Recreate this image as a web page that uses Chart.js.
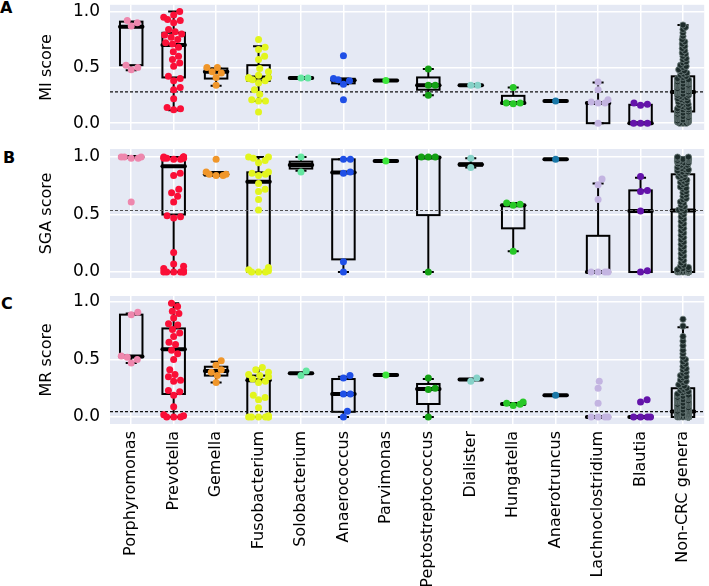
<!DOCTYPE html>
<html>
<head>
<meta charset="utf-8">
<script src="https://cdn.jsdelivr.net/npm/chart.js@4.4.1/dist/chart.umd.min.js"></script>
<style>
  body { margin: 0; background: #fff; width: 709px; height: 586px; overflow: hidden; position: relative; }
  canvas { position: absolute; left: 0; }
  .tag { position: absolute; font: bold 16px "DejaVu Sans", sans-serif; color: #000; line-height: 16px; }
</style>
</head>
<body>
<div class="tag" style="left:0px;top:0px">A</div>
<div class="tag" style="left:3px;top:150px">B</div>
<div class="tag" style="left:1px;top:296px">C</div>
<canvas id="panelA" width="709" height="135" style="top:0px"></canvas>
<canvas id="panelB" width="709" height="145" style="top:140px"></canvas>
<canvas id="panelC" width="709" height="301" style="top:285px"></canvas>
<script>
// categories
const genera = ["Porphyromonas", "Prevotella", "Gemella", "Fusobacterium", "Solobacterium",
  "Anaerococcus", "Parvimonas", "Peptostreptococcus", "Dialister", "Hungatella",
  "Anaerotruncus", "Lachnoclostridium", "Blautia", "Non-CRC genera"];
const colors = ["#ee87ad", "#fa0f37", "#f0962a", "#e2f51e", "#64e6a0", "#1f4fe6", "#3ce63c",
  "#14a014", "#86d2c8", "#28c828", "#1a78a8", "#c3b4e1", "#6414aa", "#1d2b2a"];
const yTicks = [0, 0.5, 1.0];

// non-CRC genera (dense column)
const miNonCrc = [0.00,0.00,0.00,0.01,0.01,0.02,0.02,0.03,0.03,0.04,0.04,0.05,0.05,0.06,0.06,0.07,0.07,0.08,0.08,0.09,0.09,0.10,0.10,0.10,0.11,
  0.12,0.12,0.13,0.14,0.14,0.15,0.16,0.17,0.17,0.18,0.19,0.20,0.20,0.21,0.22,0.23,0.23,0.24,0.25,0.25,0.26,0.27,0.27,0.28,0.28,
  0.29,0.29,0.30,0.30,0.31,0.31,0.32,0.32,0.33,0.33,0.34,0.34,0.35,0.35,0.36,0.36,0.37,0.37,0.38,0.38,0.39,0.39,0.40,0.41,0.42,
  0.43,0.44,0.45,0.46,0.47,0.48,0.50,0.51,0.52,0.54,0.55,0.57,0.58,0.60,0.62,0.63,0.65,0.67,0.69,0.71,0.73,0.75,0.78,0.81,0.84,0.86,0.88];
const sgaNonCrc = [0,0,0,0,0,0,0,0,0,0,0,0,0,0,0.01,0.01,0.01,0.01,0.01,0.01,0.02,0.02,0.03,0.04,0.05,
  0.06,0.08,0.10,0.12,0.14,0.16,0.18,0.20,0.22,0.24,0.26,0.28,0.30,0.32,0.34,0.36,0.38,0.40,0.42,0.44,0.46,0.48,0.50,0.52,0.53,
  0.54,0.55,0.57,0.58,0.60,0.61,0.63,0.64,0.66,0.67,0.69,0.70,0.72,0.73,0.74,0.76,0.77,0.78,0.79,0.80,0.81,0.82,0.83,0.84,0.85,
  0.86,0.87,0.87,0.88,0.89,0.89,0.90,0.91,0.91,0.92,0.93,0.93,0.94,0.95,0.95,0.96,0.96,0.97,0.97,0.98,0.98,0.99,0.99,1.00,1.00];
const mrNonCrc = [0,0,0,0,0,0,0,0,0,0,0,0,0,0,0,0,0,0,0,0,0.01,0.01,0.01,0.01,0.01,0.01,0.02,0.02,0.02,0.02,
  0.02,0.03,0.03,0.03,0.04,0.04,0.04,0.05,0.05,0.05,0.06,0.06,0.07,0.07,0.08,0.08,0.09,0.09,0.10,0.10,
  0.11,0.11,0.12,0.12,0.13,0.13,0.14,0.14,0.15,0.15,0.16,0.16,0.17,0.17,0.18,0.18,0.19,0.19,0.20,0.21,0.22,0.22,0.23,0.24,0.25,
  0.26,0.27,0.28,0.30,0.31,0.32,0.34,0.35,0.36,0.38,0.39,0.41,0.42,0.44,0.46,0.48,0.50,0.52,0.55,0.58,0.62,0.66,0.70,0.79,0.85];

// MI score
const miPoints = [
  [0.92, 0.90, 0.87, 0.52, 0.50, 0.48],
  [1.0, 0.97, 0.95, 0.93, 0.92, 0.90, 0.84, 0.82, 0.80, 0.79, 0.77, 0.75, 0.72, 0.71, 0.68, 0.64, 0.60, 0.57, 0.54, 0.51, 0.42, 0.40, 0.38, 0.32, 0.30, 0.22, 0.14, 0.13, 0.12],
  [0.50, 0.50, 0.46, 0.45, 0.41, 0.34],
  [0.75, 0.68, 0.66, 0.60, 0.57, 0.49, 0.46, 0.43, 0.41, 0.41, 0.40, 0.39, 0.38, 0.36, 0.30, 0.26, 0.21, 0.20, 0.20, 0.10],
  [0.405, 0.405],
  [0.605, 0.40, 0.39, 0.38, 0.35, 0.21],
  [0.383],
  [0.485, 0.34, 0.34, 0.25],
  [0.34, 0.34],
  [0.32, 0.18, 0.18, 0.175],
  [0.20],
  [0.37, 0.30, 0.21, 0.19, 0.18, 0.18, 0.0],
  [0.18, 0.17, 0.16, 0.0, 0.0, 0.0],
  miNonCrc
];
// [lower whisker, q1, median, q3, upper whisker]
const miBox = [
  [0.475, 0.52, 0.865, 0.91, 0.91], [0.115, 0.41, 0.70, 0.81, 1.0], [0.335, 0.40, 0.46, 0.49, 0.49],
  [0.20, 0.38, 0.41, 0.52, 0.69], [0.405, 0.405, 0.405, 0.405, 0.405], [0.35, 0.357, 0.385, 0.398, 0.40],
  [0.383, 0.383, 0.383, 0.383, 0.383], [0.25, 0.30, 0.34, 0.41, 0.485], [0.34, 0.34, 0.34, 0.34, 0.34],
  [0.18, 0.18, 0.18, 0.245, 0.32], [0.20, 0.20, 0.20, 0.20, 0.20], [0.0, 0.0, 0.18, 0.18, 0.365],
  [0.0, 0.0, 0.0, 0.165, 0.165], [0.0, 0.105, 0.28, 0.42, 0.88]
];
const miCut = 0.28;

// SGA score
const sgaPoints = [
  [1.0, 1.0, 0.99, 0.99, 1.0, 0.61],
  [1.0, 1.0, 1.0, 0.99, 0.99, 0.99, 0.98, 1.0, 0.98, 0.86, 0.84, 0.72, 0.69, 0.66, 0.61, 0.49, 0.48, 0.47, 0.17, 0.07, 0.05, 0.03, 0.01, 0.0, 0.0, 0.0, 0.0, 0.0, 0.0],
  [0.98, 0.87, 0.85, 0.85, 0.84, 0.84],
  [1.0, 1.0, 0.99, 0.97, 0.95, 0.87, 0.86, 0.85, 0.84, 0.77, 0.72, 0.70, 0.63, 0.54, 0.04, 0.02, 0.01, 0.0, 0.0, 0.0],
  [1.0, 0.87],
  [0.98, 0.98, 0.87, 0.86, 0.09, 0.0],
  [0.965],
  [1.0, 1.0, 1.0, 0.0],
  [0.99, 0.91],
  [0.60, 0.59, 0.58, 0.18],
  [0.98],
  [0.81, 0.76, 0.63, 0.0, 0.0, 0.0, 0.0],
  [0.83, 0.71, 0.70, 0.53, 0.01, 0.0],
  sgaNonCrc
];
const sgaBox = [
  [1.0, 1.0, 1.0, 1.0, 1.0], [0.0, 0.50, 0.92, 1.0, 1.0], [0.84, 0.84, 0.85, 0.87, 0.87],
  [0.0, 0.0, 0.785, 0.867, 1.0], [0.88, 0.90, 0.93, 0.96, 1.0], [0.0, 0.11, 0.865, 0.98, 0.98],
  [0.965, 0.965, 0.965, 0.965, 0.965], [0.0, 0.495, 0.997, 0.997, 0.997], [0.91, 0.925, 0.935, 0.945, 0.99],
  [0.18, 0.38, 0.58, 0.58, 0.60], [0.98, 0.98, 0.98, 0.98, 0.98], [0.0, 0.0, 0.0, 0.315, 0.77],
  [0.0, 0.0, 0.53, 0.71, 0.82], [0.0, 0.0, 0.535, 0.85, 1.0]
];
const sgaCut = 0.535;

// MR score
const mrPoints = [
  [0.91, 0.89, 0.53, 0.52, 0.50, 0.47],
  [0.99, 0.96, 0.92, 0.90, 0.86, 0.81, 0.80, 0.76, 0.73, 0.70, 0.65, 0.63, 0.58, 0.55, 0.50, 0.41, 0.37, 0.35, 0.32, 0.31, 0.23, 0.22, 0.19, 0.09, 0.02, 0.01, 0.0, 0.0, 0.0],
  [0.49, 0.45, 0.41, 0.39, 0.36, 0.30],
  [0.43, 0.41, 0.39, 0.37, 0.36, 0.35, 0.33, 0.31, 0.30, 0.19, 0.17, 0.15, 0.08, 0.01, 0.0, 0.0, 0.0, 0.0, 0.0, 0.0],
  [0.40, 0.36],
  [0.36, 0.34, 0.20, 0.20, 0.05, 0.0],
  [0.365],
  [0.34, 0.25, 0.24, 0.0],
  [0.34, 0.31],
  [0.13, 0.12, 0.11, 0.10],
  [0.19],
  [0.31, 0.25, 0.12, 0.0, 0.0, 0.0, 0.0],
  [0.15, 0.13, 0.0, 0.0, 0.0, 0.0],
  mrNonCrc
];
const mrBox = [
  [0.47, 0.52, 0.525, 0.89, 0.90], [0.0, 0.20, 0.59, 0.77, 0.99], [0.30, 0.36, 0.40, 0.437, 0.48],
  [0.0, 0.0, 0.32, 0.36, 0.42], [0.38, 0.38, 0.38, 0.38, 0.38], [0.0, 0.045, 0.20, 0.33, 0.35],
  [0.365, 0.365, 0.365, 0.365, 0.365], [0.0, 0.113, 0.243, 0.287, 0.33], [0.326, 0.326, 0.326, 0.326, 0.326],
  [0.113, 0.113, 0.113, 0.113, 0.113], [0.19, 0.19, 0.19, 0.19, 0.19], [0.0, 0.0, 0.0, 0.0, 0.0],
  [0.0, 0.0, 0.0, 0.0, 0.0], [0.0, 0.0, 0.047, 0.25, 0.78]
];
const mrCut = 0.047;

const FONT = "'DejaVu Sans', sans-serif";
const PX_PER_CAT = 42.8, PX_PER_UNIT = 115;

// beeswarm layout: sideways offsets so points do not overlap (clamped to a gutter)
function swarm(vals, spacing, maxHalf) {
  const order = vals.map((v, i) => i).sort((a, b) => vals[a] - vals[b]);
  const placed = [], out = new Array(vals.length);
  const d = spacing;
  order.forEach((i) => {
    const yy = vals[i] * PX_PER_UNIT;
    const near = placed.filter((p) => Math.abs(p.y - yy) < d);
    const cands = [0];
    near.forEach((p) => {
      const dx = Math.sqrt(d * d - (p.y - yy) ** 2);
      cands.push(p.x + dx, p.x - dx);
    });
    cands.sort((a, b) => Math.abs(a) - Math.abs(b));
    let xx = cands.find((c) => near.every((p) => (p.x - c) ** 2 + (p.y - yy) ** 2 >= d * d - 1e-6));
    if (xx === undefined) xx = placed.length % 2 ? maxHalf : -maxHalf;
    if (Math.abs(xx) > maxHalf) xx = Math.sign(xx) * maxHalf;
    placed.push({ x: xx, y: yy });
    out[i] = xx / PX_PER_CAT;
  });
  return out;
}

// plot background
const bgPlugin = {
  id: "plotBg",
  beforeDraw(chart) {
    const { ctx, chartArea: a } = chart;
    ctx.save();
    ctx.fillStyle = "#e5e9f4";
    ctx.fillRect(a.left, a.top, a.right - a.left, a.bottom - a.top);
    ctx.restore();
  },
};

// box plots drawn under the points
const boxPlugin = {
  id: "boxes",
  beforeDatasetsDraw(chart, args, opts) {
    const { ctx, scales: { x, y } } = chart;
    ctx.save();
    ctx.strokeStyle = "#000";
    opts.stats.forEach((s, i) => {
      const [lo, q1, med, q3, hi] = s;
      const xl = x.getPixelForValue(i - 0.265), xr = x.getPixelForValue(i + 0.265);
      const xc = x.getPixelForValue(i);
      const cl = x.getPixelForValue(i - 0.13), cr = x.getPixelForValue(i + 0.13);
      const yq1 = y.getPixelForValue(q1), yq3 = y.getPixelForValue(q3);
      const ylo = y.getPixelForValue(lo), yhi = y.getPixelForValue(hi);
      ctx.lineWidth = 2;
      ctx.lineCap = "butt";
      ctx.strokeRect(xl, yq3, xr - xl, yq1 - yq3);
      ctx.beginPath();
      ctx.moveTo(xc, yq3); ctx.lineTo(xc, yhi);
      ctx.moveTo(xc, yq1); ctx.lineTo(xc, ylo);
      ctx.moveTo(cl, yhi); ctx.lineTo(cr, yhi);
      ctx.moveTo(cl, ylo); ctx.lineTo(cr, ylo);
      ctx.stroke();
      const ym = y.getPixelForValue(med);
      ctx.lineWidth = 4;
      ctx.lineCap = "round";
      ctx.beginPath();
      ctx.moveTo(xl, ym); ctx.lineTo(xr, ym);
      ctx.stroke();
    });
    ctx.restore();
  },
};

function buildDatasets(points, cut, cutColor) {
  const ds = points.map((vals, i) => {
    const isRef = i === genera.length - 1;
    const offs = isRef ? swarm(vals, 3.4, 5.5) : swarm(vals, 7, 10);
    return {
      type: "scatter",
      label: genera[i],
      data: vals.map((v, k) => ({ x: i + offs[k], y: v })),
      pointRadius: isRef ? 3.1 : 3.5,
      pointBackgroundColor: colors[i],
      pointBorderColor: isRef ? "#6f7f7e" : colors[i],
      pointBorderWidth: isRef ? 0.8 : 0,
      order: 1,
    };
  });
  ds.push({
    type: "line",
    label: "cut",
    data: [{ x: -0.5, y: cut }, { x: 13.5, y: cut }],
    borderColor: cutColor,
    borderWidth: 1.2,
    borderDash: [3, 2],
    pointRadius: 0,
    order: 5,
  });
  return ds;
}

function makePanel(id, opt) {
  const ctx = document.getElementById(id).getContext("2d");
  return new Chart(ctx, {
    type: "scatter",
    data: { datasets: buildDatasets(opt.points, opt.cut, opt.cutColor) },
    options: {
      responsive: false,
      animation: false,
      events: [],
      layout: { padding: { top: opt.padTop, left: 0, right: 0, bottom: 0 } },
      plugins: {
        legend: { display: false },
        tooltip: { enabled: false },
        boxes: { stats: opt.box },
      },
      scales: {
        x: {
          type: "linear",
          min: -0.5,
          max: 13.5,
          afterBuildTicks: (s) => { s.ticks = genera.map((g, i) => ({ value: i })); },
          afterFit: (s) => { s.height = opt.xHeight; s.paddingLeft = 0; s.paddingRight = 0; },
          grid: { color: "#ffffff", lineWidth: 1.5, drawTicks: false },
          border: { display: false },
          ticks: {
            display: opt.showLabels,
            autoSkip: false,
            maxRotation: 90,
            minRotation: 90,
            padding: 7,
            color: "#000",
            font: { family: FONT, size: 16 },
            callback: (v, i) => genera[i],
          },
        },
        y: {
          min: opt.yMin,
          max: opt.yMax,
          afterBuildTicks: (s) => { s.ticks = yTicks.map((v) => ({ value: v })); },
          afterFit: (s) => { s.width = 110; s.paddingTop = 0; s.paddingBottom = 0; },
          grid: { color: "#ffffff", lineWidth: 1.5, drawTicks: false },
          border: { display: false },
          ticks: {
            padding: 10,
            color: "#000",
            font: { family: FONT, size: 17 },
            callback: (v) => Number(v).toFixed(1),
          },
          title: {
            display: true,
            text: opt.title,
            color: "#000",
            font: { family: FONT, size: 16 },
            padding: { top: 37, bottom: 0 },
          },
        },
      },
    },
    plugins: [bgPlugin, boxPlugin],
  });
}

makePanel("panelA", { points: miPoints, box: miBox, cut: miCut, cutColor: "#111", title: "MI score",
  padTop: 2, xHeight: 5, yMin: -0.061, yMax: 1.061, showLabels: false });
makePanel("panelB", { points: sgaPoints, box: sgaBox, cut: sgaCut, cutColor: "#555", title: "SGA score",
  padTop: 9, xHeight: 7, yMin: -0.052, yMax: 1.07, showLabels: false });
makePanel("panelC", { points: mrPoints, box: mrBox, cut: mrCut, cutColor: "#111", title: "MR score",
  padTop: 11, xHeight: 162, yMin: -0.061, yMax: 1.052, showLabels: true });
</script>
</body>
</html>
